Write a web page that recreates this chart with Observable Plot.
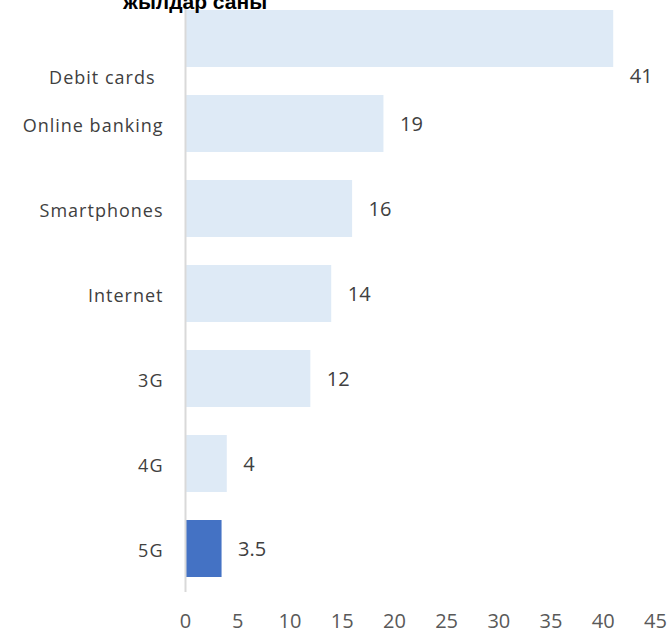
<!DOCTYPE html>
<html>
<head>
<meta charset="utf-8">
<script src="https://cdn.jsdelivr.net/npm/d3@7"></script>
<script src="https://cdn.jsdelivr.net/npm/@observablehq/plot@0.6"></script>
<style>
  html, body { margin: 0; padding: 0; background: #fff; overflow: hidden; }
  #wrap { position: relative; width: 668px; height: 634px; }
  #title { position: absolute; left: 123px; top: -10px; font: bold 21px "Liberation Sans", Arial, sans-serif; color: #000; white-space: nowrap; }
  #chart { position: absolute; left: 0; top: 0; }
  .cat text { letter-spacing: 1px; }
</style>
</head>
<body>
<div id="wrap">
  <div id="chart"></div>
  <div id="title">жылдар саны</div>
</div>
<script>
const categories = ["Debit cards", "Online banking", "Smartphones", "Internet", "3G", "4G", "5G"];
const values = [41, 19, 16, 14, 12, 4, 3.5];
const highlight = ["5G"];
const xTicks = [0, 5, 10, 15, 20, 25, 30, 35, 40, 45];

const data = categories.map((c, i) => ({category: c, value: values[i], hi: highlight.includes(c)}));
const font = '"Open Sans", sans-serif';

const plot = Plot.plot({
  width: 668,
  height: 634,
  marginLeft: 185,
  marginRight: 13,
  marginTop: 0,
  marginBottom: 47,
  style: {fontFamily: font, fontSize: "18px", color: "#404040", background: "#fff"},
  x: {domain: [0, 45], ticks: xTicks, label: null},
  y: {domain: categories, paddingInner: 0.33, paddingOuter: 0.0935, label: null},
  marks: [
    Plot.barX(data, {x: "value", y: "category", fill: d => d.hi ? "#4472C4" : "#DEEAF6"}),
    Plot.ruleX([0], {stroke: "#d9d9d9", strokeWidth: 2, insetBottom: -5}),
    Plot.axisX({ticks: xTicks, tickSize: 0, tickPadding: 26, fontSize: 20, fill: "#595959", label: null}),
    Plot.axisY(categories.filter(c => c !== "Debit cards"), {tickSize: 0, tickPadding: 22, fontSize: 18, fill: "#404040", label: null, className: "cat", dy: 2}),
    Plot.axisY(["Debit cards"], {tickSize: 0, tickPadding: 30, dy: 39, fontSize: 18, fill: "#404040", label: null, className: "cat"}),
    Plot.text(data.filter(d => d.category !== "Debit cards"), {x: "value", y: "category", text: d => String(d.value), dx: 16, dy: 1, textAnchor: "start", fontSize: 20, fill: "#404040"}),
    Plot.text(data.filter(d => d.category === "Debit cards"), {x: "value", y: "category", text: d => String(d.value), dx: 16, dy: 38, textAnchor: "start", fontSize: 20, fill: "#404040"})
  ]
});
document.getElementById("chart").appendChild(plot);
</script>
</body>
</html>
